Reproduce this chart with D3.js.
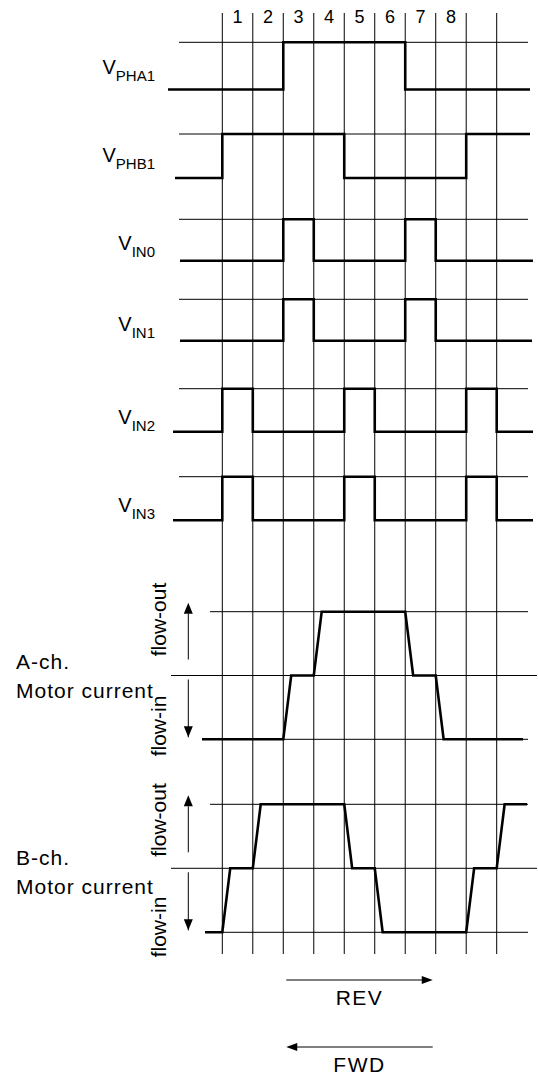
<!DOCTYPE html>
<html>
<head>
<meta charset="utf-8">
<script src="https://cdn.jsdelivr.net/npm/d3@7"></script>
<style>
  body { margin: 0; background: #fff; }
  text { font-family: "Liberation Sans", Arial, sans-serif; fill: #000; }
</style>
</head>
<body>
<div id="chart"></div>
<script>
// step numbers shown above the grid
const stepLabels = ["1", "2", "3", "4", "5", "6", "7", "8"];

// logic signals, one level per cell (cell -1 .. cell 9)
const signalNames = ["PHA1", "PHB1", "IN0", "IN1", "IN2", "IN3"];
const vPHA1 = [0, 0, 0, 1, 1, 1, 1, 0, 0, 0, 0];
const vPHB1 = [0, 1, 1, 1, 1, 0, 0, 0, 0, 1, 1];
const vIN0  = [0, 0, 0, 1, 0, 0, 0, 1, 0, 0, 0];
const vIN1  = [0, 0, 0, 1, 0, 0, 0, 1, 0, 0, 0];
const vIN2  = [0, 1, 0, 0, 0, 1, 0, 0, 0, 1, 0];
const vIN3  = [0, 1, 0, 0, 0, 1, 0, 0, 0, 1, 0];

// motor current: -1 = flow-in, 0 = zero, 1 = flow-out
const channelNames = ["A-ch.", "B-ch."];
const currentA = [-1, -1, -1, 0, 1, 1, 1, 0, -1, -1, -1];
const currentB = [-1, 0, 1, 1, 1, 0, -1, -1, -1, 0, 1];

const width = 538;
const height = 1081;

const svg = d3.select("#chart").append("svg")
  .attr("width", width)
  .attr("height", height);

// time scale: grid line k sits at x(k)
const x = d3.scaleLinear().domain([0, 9]).range([222.3, 496.7]);
const gridIdx = d3.range(0, 10);

// vertical grid
svg.append("g").selectAll("line")
  .data(gridIdx)
  .enter().append("line")
  .attr("x1", d => x(d)).attr("x2", d => x(d))
  .attr("y1", 13).attr("y2", 954)
  .attr("stroke", "#000").attr("stroke-width", 1);

// step numbers
svg.append("g").selectAll("text")
  .data(stepLabels)
  .enter().append("text")
  .attr("x", (d, i) => x(i + 0.5))
  .attr("y", 23)
  .attr("text-anchor", "middle")
  .style("font-size", "18px")
  .text(d => d);

// logic rows
const rows = [
  { name: signalNames[0], levels: vPHA1, hi: 42.3, lo: 89.5, x0: 168, x1: 530, ly: 74 },
  { name: signalNames[1], levels: vPHB1, hi: 134, lo: 178, x0: 175, x1: 530, ly: 162 },
  { name: signalNames[2], levels: vIN0, hi: 219.3, lo: 260.7, x0: 180, x1: 533, ly: 250 },
  { name: signalNames[3], levels: vIN1, hi: 299.3, lo: 340.7, x0: 180, x1: 532, ly: 331 },
  { name: signalNames[4], levels: vIN2, hi: 388.7, lo: 431.7, x0: 173, x1: 533, ly: 424 },
  { name: signalNames[5], levels: vIN3, hi: 476.7, lo: 520.3, x0: 173, x1: 533, ly: 512 }
];

rows.forEach(r => {
  const y = d3.scaleLinear().domain([0, 1]).range([r.lo, r.hi]);
  const g = svg.append("g");

  g.append("line")
    .attr("x1", 179).attr("x2", 528)
    .attr("y1", y(1)).attr("y2", y(1))
    .attr("stroke", "#000").attr("stroke-width", 1);

  const pts = [[r.x0, y(r.levels[0])]];
  for (let k = 0; k <= 9; k++) {
    pts.push([x(k), y(r.levels[k])]);
    pts.push([x(k), y(r.levels[k + 1])]);
  }
  pts.push([r.x1, y(r.levels[10])]);

  g.append("path")
    .attr("d", d3.line()(pts))
    .attr("fill", "none")
    .attr("stroke", "#000")
    .attr("stroke-width", 2.6);

  const t = g.append("text")
    .attr("x", 155)
    .attr("y", r.ly)
    .attr("text-anchor", "end");
  t.append("tspan").style("font-size", "20px").text("V");
  t.append("tspan").attr("dy", 7).style("font-size", "15px").text(r.name);
});

// motor current rows
const chans = [
  { name: channelNames[0], levels: currentA, out: 611.7, zero: 675, inn: 739.3, x0: 202, x1: 523,
    ly: 669, fo: 619.5, fi: 726 },
  { name: channelNames[1], levels: currentB, out: 804.3, zero: 867.7, inn: 932.3, x0: 205, x1: 527,
    ly: 865, fo: 820, fi: 927 }
];

const ramp = 0.26;

chans.forEach(c => {
  const y = d3.scaleLinear().domain([-1, 1]).range([c.inn, c.out]);
  const g = svg.append("g");

  [1, -1].forEach(v => {
    g.append("line")
      .attr("x1", 210).attr("x2", 528)
      .attr("y1", y(v)).attr("y2", y(v))
      .attr("stroke", "#000").attr("stroke-width", 1);
  });
  g.append("line")
    .attr("x1", 171).attr("x2", 537)
    .attr("y1", y(0)).attr("y2", y(0))
    .attr("stroke", "#000").attr("stroke-width", 1);

  const pts = [[c.x0, y(c.levels[0])]];
  for (let k = 0; k <= 9; k++) {
    if (c.levels[k + 1] !== c.levels[k]) {
      pts.push([x(k), y(c.levels[k])]);
      pts.push([x(k + ramp), y(c.levels[k + 1])]);
    }
  }
  pts.push([c.x1, y(c.levels[10])]);

  g.append("path")
    .attr("d", d3.line()(pts))
    .attr("fill", "none")
    .attr("stroke", "#000")
    .attr("stroke-width", 2.6);

  // direction arrows
  const ax = 188.3;
  g.append("line")
    .attr("x1", ax).attr("x2", ax)
    .attr("y1", y(0) - 16).attr("y2", y(1) + 2)
    .attr("stroke", "#000").attr("stroke-width", 1);
  g.append("path")
    .attr("d", `M${ax},${y(1) - 9}L${ax - 4.5},${y(1) + 2}L${ax + 4.5},${y(1) + 2}Z`)
    .attr("fill", "#000");
  g.append("line")
    .attr("x1", ax).attr("x2", ax)
    .attr("y1", y(0) + 4).attr("y2", y(-1) - 2)
    .attr("stroke", "#000").attr("stroke-width", 1);
  g.append("path")
    .attr("d", `M${ax},${y(-1) - 2 + 0}L${ax - 4.5},${y(-1) - 13}L${ax + 4.5},${y(-1) - 13}Z`)
    .attr("transform", "translate(0,0)")
    .attr("fill", "#000");

  // rotated flow labels
  [["flow-out", c.fo], ["flow-in", c.fi]].forEach(([s, cy]) => {
    g.append("text")
      .attr("transform", `translate(166,${cy}) rotate(-90)`)
      .attr("text-anchor", "middle")
      .style("font-size", "21px")
      .text(s);
  });

  g.append("text")
    .attr("x", 16).attr("y", c.ly)
    .style("font-size", "21px").style("letter-spacing", "1px")
    .text(c.name);
  g.append("text")
    .attr("x", 16).attr("y", c.ly + 29)
    .style("font-size", "21px").style("letter-spacing", "1px")
    .text("Motor current");
});

// direction arrows at the bottom
const dirs = [
  { label: "REV", y: 980, right: true },
  { label: "FWD", y: 1047, right: false }
];
dirs.forEach(d => {
  const xa = x(2) + 3, xb = x(7) - 3;
  const g = svg.append("g");
  g.append("line")
    .attr("x1", d.right ? xa : xa + 8).attr("x2", d.right ? xb - 8 : xb)
    .attr("y1", d.y).attr("y2", d.y)
    .attr("stroke", "#000").attr("stroke-width", 1);
  const tip = d.right ? xb : xa;
  const back = d.right ? xb - 11 : xa + 11;
  g.append("path")
    .attr("d", `M${tip},${d.y}L${back},${d.y - 4}L${back},${d.y + 4}Z`)
    .attr("fill", "#000");
  g.append("text")
    .attr("x", (xa + xb) / 2)
    .attr("y", d.y + 25)
    .attr("text-anchor", "middle")
    .style("font-size", "21px")
    .style("letter-spacing", "1.5px")
    .text(d.label);
});
</script>
</body>
</html>
